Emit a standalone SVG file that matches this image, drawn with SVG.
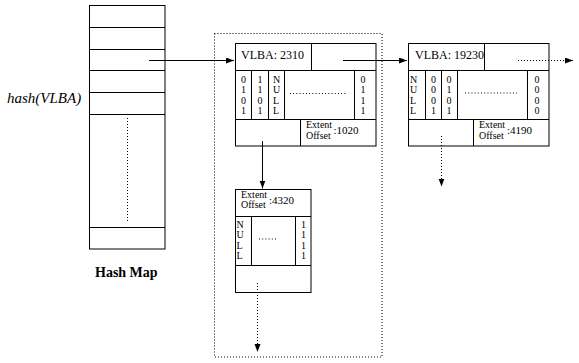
<svg xmlns="http://www.w3.org/2000/svg" width="579" height="363" viewBox="0 0 579 363">
  <defs>
    <marker id="arrow" markerUnits="userSpaceOnUse" markerWidth="9" markerHeight="7" refX="8" refY="3" orient="auto">
      <path d="M0,0 L8,3 L0,6 z" fill="#000"/>
    </marker>
    <style>
      .box { fill: #fff; stroke: #000; stroke-width: 1; }
      .ln { stroke: #000; stroke-width: 1; fill: none; }
      .dot { stroke: #000; stroke-width: 1; fill: none; stroke-dasharray: 1 2; }
      .fine { stroke: #000; stroke-width: 1; fill: none; stroke-dasharray: 1 2.2; }
      text { font-family: "Liberation Serif", "Times New Roman", serif; fill: #000; }
      .hd { font-size: 12px; }
      .col { font-size: 10px; text-anchor: middle; }
      .nul { font-size: 10px; }
      .sm { font-size: 10px; }
      .num { font-size: 11px; }
    </style>
  </defs>

  <!-- hash table -->
  <g id="hashmap">
    <rect class="box" x="89.5" y="5.5" width="75.5" height="243.5"/>
    <path class="ln" d="M89.5,27.5 H165 M89.5,49.5 H165 M89.5,70.5 H165 M89.5,92.5 H165 M89.5,114.5 H165 M89.5,227.5 H165"/>
    <path class="dot" d="M127.5,118 V222"/>
    <text x="7" y="103" font-size="15" font-style="italic">hash(VLBA)</text>
    <text x="95" y="276.5" font-size="14" font-weight="bold">Hash Map</text>
  </g>

  <!-- bucket chain enclosure -->
  <g id="chain">
    <rect class="dot" x="214.5" y="33.5" width="167.5" height="323.5"/>
  </g>

  <!-- extent node VLBA 2310 -->
  <g id="node-2310">
    <rect class="box" x="235.5" y="43.5" width="140.5" height="102.5"/>
    <path class="ln" d="M235.5,70.5 H376 M235.5,119.5 H376 M311.5,43.5 V70.5 M251.5,70.5 V119.5 M268.5,70.5 V119.5 M284.5,70.5 V119.5 M354.5,70.5 V119.5 M300.5,119.5 V146"/>
    <text class="hd" x="241" y="59">VLBA: 2310</text>
    <text class="col"><tspan x="243.5" y="83">0</tspan><tspan x="243.5" y="93.3">1</tspan><tspan x="243.5" y="103.6">0</tspan><tspan x="243.5" y="114">1</tspan></text>
    <text class="col"><tspan x="260" y="83">1</tspan><tspan x="260" y="93.3">1</tspan><tspan x="260" y="103.6">0</tspan><tspan x="260" y="114">1</tspan></text>
    <text class="nul"><tspan x="273" y="83">N</tspan><tspan x="273" y="93.3">U</tspan><tspan x="273" y="103.6">L</tspan><tspan x="273" y="114">L</tspan></text>
    <path class="fine" d="M290,93.5 H346"/>
    <text class="col"><tspan x="363" y="83">0</tspan><tspan x="363" y="93.3">1</tspan><tspan x="363" y="103.6">1</tspan><tspan x="363" y="114">1</tspan></text>
    <text class="sm" x="306" y="128">Extent</text>
    <text class="sm" x="306" y="138.5">Offset</text>
    <text class="num" x="333.5" y="134">:1020</text>
  </g>

  <!-- extent node VLBA 19230 -->
  <g id="node-19230">
    <rect class="box" x="408.5" y="43.5" width="140.5" height="102.5"/>
    <path class="ln" d="M408.5,70.5 H549 M408.5,119.5 H549 M484.5,43.5 V70.5 M425.5,70.5 V119.5 M441.5,70.5 V119.5 M457.5,70.5 V119.5 M527.5,70.5 V119.5 M473.5,119.5 V146"/>
    <text class="hd" x="415" y="59">VLBA: 19230</text>
    <text class="nul"><tspan x="410" y="83">N</tspan><tspan x="410" y="93.3">U</tspan><tspan x="410" y="103.6">L</tspan><tspan x="410" y="114">L</tspan></text>
    <text class="col"><tspan x="433.5" y="83">0</tspan><tspan x="433.5" y="93.3">0</tspan><tspan x="433.5" y="103.6">0</tspan><tspan x="433.5" y="114">1</tspan></text>
    <text class="col"><tspan x="449" y="83">0</tspan><tspan x="449" y="93.3">1</tspan><tspan x="449" y="103.6">0</tspan><tspan x="449" y="114">1</tspan></text>
    <path class="fine" d="M465,93 H517"/>
    <text class="col"><tspan x="537" y="83">0</tspan><tspan x="537" y="93.3">0</tspan><tspan x="537" y="103.6">0</tspan><tspan x="537" y="114">0</tspan></text>
    <text class="sm" x="479" y="128">Extent</text>
    <text class="sm" x="479" y="138.5">Offset</text>
    <text class="num" x="507" y="134">:4190</text>
  </g>

  <!-- extent node offset 4320 -->
  <g id="node-4320">
    <rect class="box" x="235.5" y="189.5" width="75.5" height="103"/>
    <path class="ln" d="M235.5,216.5 H311 M235.5,265.5 H311 M251.5,216.5 V265.5 M295.5,216.5 V265.5"/>
    <text class="sm" x="241" y="197.5">Extent</text>
    <text class="sm" x="241" y="208">Offset</text>
    <text class="num" x="269" y="204" font-size="12">:4320</text>
    <text class="nul"><tspan x="236.5" y="228">N</tspan><tspan x="236.5" y="238.3">U</tspan><tspan x="236.5" y="248.6">L</tspan><tspan x="236.5" y="259">L</tspan></text>
    <path class="fine" d="M259,239 H277"/>
    <text class="col"><tspan x="303.5" y="228">1</tspan><tspan x="303.5" y="238.3">1</tspan><tspan x="303.5" y="248.6">1</tspan><tspan x="303.5" y="259">1</tspan></text>
  </g>

  <!-- links between entries -->
  <g id="connectors">
    <path class="ln" d="M149,60.5 H234" marker-end="url(#arrow)"/>
    <path class="ln" d="M343,60.5 H407" marker-end="url(#arrow)"/>
    <path class="dot" d="M518,60.5 H573" marker-end="url(#arrow)"/>
    <path class="ln" d="M262.5,141 V188.5" marker-end="url(#arrow)"/>
    <path class="dot" d="M441.5,136 V186.5" marker-end="url(#arrow)"/>
    <path class="dot" d="M257.5,283 V352" marker-end="url(#arrow)"/>
  </g>
</svg>
